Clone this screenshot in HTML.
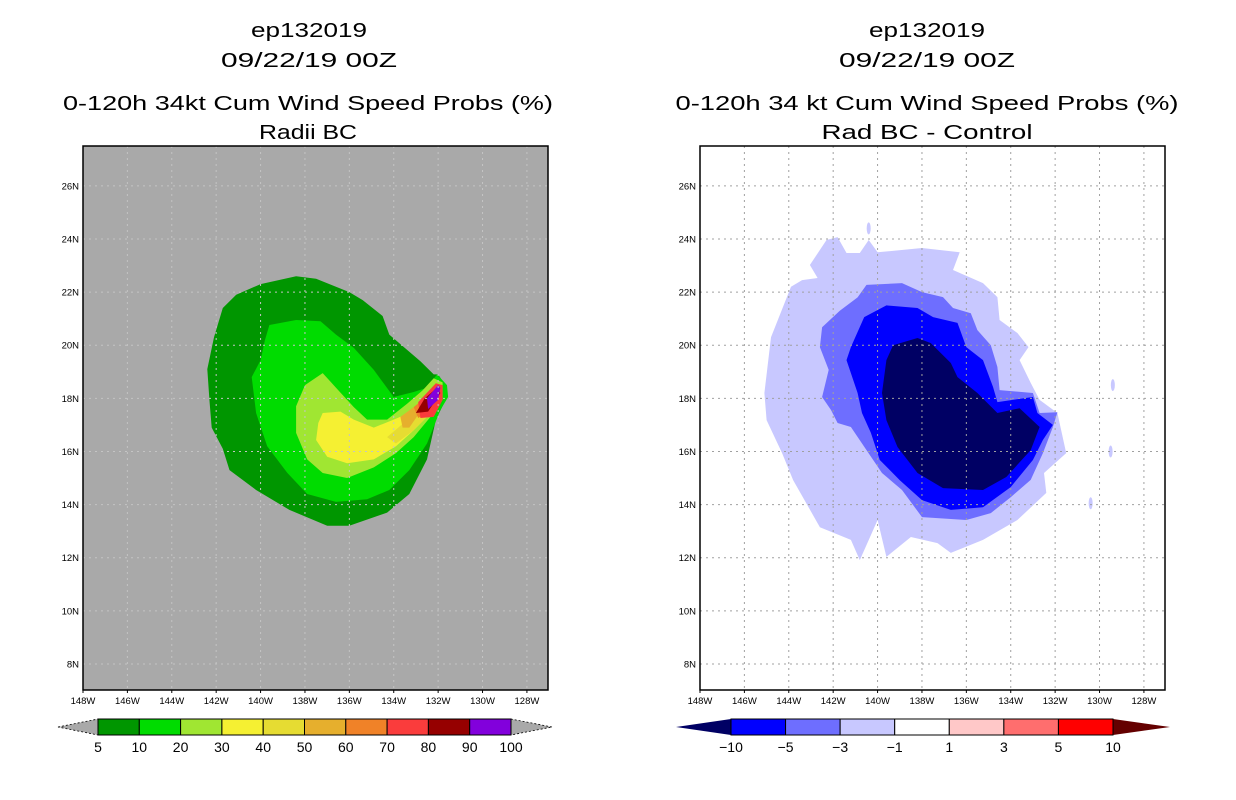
<!DOCTYPE html>
<html><head><meta charset="utf-8"><style>
html,body{margin:0;padding:0;background:#fff;}
svg{display:block;font-family:"Liberation Sans",sans-serif;}
</style></head><body>
<svg id="s" width="1236" height="800" viewBox="0 0 1236 800" xmlns="http://www.w3.org/2000/svg">
<g font-size="20" text-anchor="middle" fill="#000">
<text x="309" y="37" textLength="116" lengthAdjust="spacingAndGlyphs">ep132019</text>
<text x="309" y="67" textLength="176" lengthAdjust="spacingAndGlyphs">09/22/19 00Z</text>
<text x="308" y="110" textLength="490" lengthAdjust="spacingAndGlyphs">0-120h 34kt Cum Wind Speed Probs (%)</text>
<text x="308" y="139" textLength="98" lengthAdjust="spacingAndGlyphs">Radii BC</text>
</g>
<g font-size="20" text-anchor="middle" fill="#000">
<text x="927" y="37" textLength="116" lengthAdjust="spacingAndGlyphs">ep132019</text>
<text x="927" y="67" textLength="176" lengthAdjust="spacingAndGlyphs">09/22/19 00Z</text>
<text x="927" y="110" textLength="503" lengthAdjust="spacingAndGlyphs">0-120h 34 kt Cum Wind Speed Probs (%)</text>
<text x="927" y="139" textLength="211" lengthAdjust="spacingAndGlyphs">Rad BC - Control</text>
</g>
<g id="left"></g>
<g id="right"></g>
<g id="cbl"></g>
<g id="cbr"></g>
</svg>
<script>
// axis ranges
const lonTicks = [148,146,144,142,140,138,136,134,132,130,128];
const latTicks = [8,10,12,14,16,18,20,22,24,26];
// left panel contours (lon W, lat N)
const probLevels = ["5","10","20","30","40","50","60","70","80","90","100"];
const probColors = ["#009600","#00DC00","#A0E632","#F5F032","#E6DC32","#E6AF2D","#F08228","#FA3C3C","#960000","#8200DC"];
const c5 = [[140.0,22.3],[138.4,22.6],[137.5,22.5],[136.0,22.0],[135.4,21.7],[134.5,21.1],[134.2,20.4],[132.8,19.4],[132.2,18.9],[132.0,18.9],[131.6,18.4],[131.6,18.05],[132.1,17.2],[132.5,15.7],[133.3,14.4],[134.3,13.7],[136.0,13.2],[137.0,13.2],[138.7,13.8],[140.2,14.55],[141.4,15.3],[141.7,16.1],[142.2,16.9],[142.3,17.9],[142.4,19.1],[142.1,20.3],[141.7,21.4],[141.1,21.9]];
const c10 = [[139.6,20.76],[138.4,20.95],[137.3,20.9],[136.6,20.4],[135.8,19.9],[134.9,19.07],[134.0,18.05],[133.1,18.24],[132.5,18.4],[132.05,18.9],[131.6,18.5],[131.55,18.05],[131.9,17.56],[132.5,16.3],[133.3,15.3],[134.2,14.55],[135.2,14.2],[136.6,14.1],[137.9,14.4],[138.8,15.2],[139.7,16.2],[140.2,17.45],[140.4,18.8],[140.0,19.44],[139.8,20.2]];
const c20 = [[138.0,18.5],[137.2,18.95],[136.6,18.4],[135.8,17.67],[135.2,17.2],[134.3,17.2],[133.4,17.8],[132.7,18.3],[132.2,18.76],[131.8,18.6],[131.8,17.94],[132.2,17.45],[133.1,16.54],[133.9,15.94],[134.9,15.4],[136.1,15.0],[137.2,15.19],[137.9,15.7],[138.4,16.7],[138.4,17.7]];
const c30 = [[137.2,17.45],[136.4,17.5],[135.8,17.2],[134.9,16.9],[134.0,17.2],[133.3,17.45],[132.7,17.67],[132.5,17.3],[133.1,16.8],[133.9,16.2],[134.9,15.7],[136.1,15.56],[137.0,15.8],[137.5,16.43],[137.4,17.07]];
const c40 = [[134.3,16.54],[133.3,17.25],[132.5,17.74],[132.3,17.48],[133.1,16.8],[133.9,16.3]];
const c50 = [[133.7,17.3],[133.1,17.67],[132.8,17.5],[133.3,16.9],[133.6,16.9]];
const c60 = [[133.1,17.67],[132.5,18.1],[132.45,17.5],[132.9,17.26]];
const c70 = [[132.9,17.86],[132.1,18.57],[131.8,18.5],[131.8,17.94],[132.2,17.3],[132.8,17.26]];
const c80 = [[133.0,17.45],[132.6,18.0],[132.05,18.4],[131.9,18.2],[132.45,17.5]];
const c90 = [[132.5,18.0],[132.0,18.5],[131.9,18.4],[132.0,17.94],[132.45,17.6]];
// right panel difference contours
const diffLevels = ["-10","-5","-3","-1","1","3","5","10"];
const diffColors = ["#000064","#0000FF","#6E6EFF","#C8C8FF","#FFFFFF","#FFC8C8","#FF6E6E","#FF0000"];
const d1 = [[143.05,23.02],[142.3,23.96],[141.8,24.07],[141.4,23.47],[140.8,23.47],[140.4,23.96],[140.0,23.5],[138.0,23.66],[136.3,23.5],[136.6,22.83],[135.25,22.34],[134.6,21.81],[134.5,20.95],[133.7,20.46],[133.2,19.93],[133.6,19.44],[133.1,18.58],[132.7,17.94],[131.9,17.45],[131.5,15.94],[132.5,15.19],[132.4,14.44],[133.7,13.42],[135.25,12.67],[136.7,12.18],[137.3,12.55],[138.5,12.78],[139.6,12.03],[140.0,13.42],[140.8,11.91],[141.2,12.67],[142.6,13.15],[143.8,14.92],[144.3,15.94],[145.0,17.18],[145.1,18.2],[144.8,20.3],[143.9,22.2],[143.4,22.45],[142.7,22.53]];
const d3 = [[140.5,22.27],[138.9,22.34],[138.0,22.0],[137.05,21.81],[136.6,21.4],[135.8,21.2],[135.5,20.57],[134.9,20.0],[134.6,19.18],[134.5,18.31],[133.0,18.2],[132.7,17.45],[131.9,17.48],[132.1,16.92],[132.55,15.94],[133.1,14.93],[134.0,14.28],[134.9,13.68],[136.0,13.42],[138.0,13.53],[138.9,14.55],[139.8,15.19],[140.5,16.05],[141.2,16.92],[141.8,17.07],[142.1,17.56],[142.5,18.05],[142.2,19.07],[142.6,19.93],[142.5,20.68],[141.7,21.3],[140.9,21.8]];
const d5 = [[139.6,21.5],[138.2,21.4],[137.5,21.06],[136.4,20.84],[136.0,19.93],[135.25,19.44],[134.8,18.43],[134.6,17.86],[133.0,18.05],[132.8,17.45],[132.1,17.0],[132.55,16.43],[133.0,15.68],[134.0,14.66],[135.25,13.9],[136.7,13.8],[138.0,14.17],[139.0,14.92],[139.9,15.68],[140.3,16.7],[140.7,17.45],[140.9,18.2],[141.4,19.44],[141.2,19.93],[140.6,21.06]];
const d10 = [[139.3,20.0],[138.2,20.27],[137.6,20.08],[136.7,19.33],[136.4,18.8],[135.5,18.2],[134.6,17.45],[133.6,17.63],[132.7,16.92],[133.1,16.05],[134.2,15.04],[135.25,14.55],[137.05,14.62],[138.2,15.19],[139.1,16.17],[139.6,17.18],[139.8,18.2],[139.6,19.44]];
const dSpots = [[129.4,18.5],[130.4,14.05],[129.5,16.0],[140.4,24.4]];

const NS='http://www.w3.org/2000/svg';
function mk(tag,attrs,parent){const e=document.createElementNS(NS,tag);for(const k in attrs)e.setAttribute(k,attrs[k]);parent.appendChild(e);return e;}
const LON0=148, LON1=127.05, LAT0=7.02, LAT1=27.5, W=465, H=544, TOP=146;
function xs(x0,lon){return x0+(LON0-lon)/(LON0-LON1)*W;}
function ys(lat){return TOP+(LAT1-lat)/(LAT1-LAT0)*H;}

function panel(g,x0,bg,gridCol){
  const r=mk('rect',{x:x0,y:TOP,width:W,height:H,fill:bg},g);
  
  
  return function(){
    for(const lon of lonTicks){
      const x=xs(x0,lon);
      const l=mk('line',{x1:x,y1:TOP,x2:x,y2:TOP+H,stroke:gridCol,'stroke-width':1,'stroke-dasharray':'2,4'},g);
      
      
      const t=mk('text',{x:x,y:TOP+H+14,'font-size':9.5,'text-anchor':'middle'},g);
      t.textContent=lon+'W';
      
      
      const tk=mk('line',{x1:x,y1:TOP+H,x2:x,y2:TOP+H+3,stroke:'#000'},g);
      
      
    }
    for(const lat of latTicks){
      const y=ys(lat);
      const l=mk('line',{x1:x0,y1:y,x2:x0+W,y2:y,stroke:gridCol,'stroke-width':1,'stroke-dasharray':'2,4'},g);
      
      
      const t=mk('text',{x:x0-4,y:y+3.5,'font-size':9.5,'text-anchor':'end'},g);
      t.textContent=lat+'N';
      
      
    }
    const f=mk('rect',{x:x0,y:TOP,width:W,height:H,fill:'none',stroke:'#000','stroke-width':1.5},g);
    
    
  };
}
function poly(g,x0,pts,color,name){
  const p=mk('polygon',{points:pts.map(q=>xs(x0,q[0]).toFixed(1)+','+ys(q[1]).toFixed(1)).join(' '),fill:color},g);
  
  
}
// left
const gl=document.getElementById('left');
const finL=panel(gl,83,'#A9A9A9','#C4C4C4');
[c5,c10,c20,c30,c40,c50,c60,c70,c80,c90].forEach((c,i)=>poly(gl,83,c,probColors[i],'prob-contour-'+probLevels[i]));
finL();
// right
const gr=document.getElementById('right');
const finR=panel(gr,700,'#FFFFFF','#A0A0A0');
[d1,d3,d5,d10].forEach((c,i)=>poly(gr,700,c,diffColors[3-i],'diff-contour-'+diffLevels[3-i]));
for(const s of dSpots){
  const e=mk('ellipse',{cx:xs(700,s[0]),cy:ys(s[1]),rx:2,ry:6,fill:diffColors[3]},gr);
  
  
}
finR();

function colorbar(g,xL,xB0,xB1,xR,colors,labels,triL,triR,dashedTri){
  const y0=719,y1=735,n=colors.length,bw=(xB1-xB0)/n;
  const ta=mk('polygon',{points:`${xL},727 ${xB0},${y0} ${xB0},${y1}`,fill:triL,stroke:dashedTri?'#000':'none','stroke-dasharray':'2,2','stroke-width':0.8},g);
  
  
  const tb=mk('polygon',{points:`${xR},727 ${xB1},${y0} ${xB1},${y1}`,fill:triR,stroke:dashedTri?'#000':'none','stroke-dasharray':'2,2','stroke-width':0.8},g);
  
  
  colors.forEach((c,i)=>{
    const r=mk('rect',{x:xB0+i*bw,y:y0,width:bw,height:y1-y0,fill:c,stroke:'#000','stroke-width':1},g);
    
    
  });
  labels.forEach((t,i)=>{
    const e=mk('text',{x:xB0+i*bw,y:752,'font-size':14,'text-anchor':'middle'},g);
    e.textContent=t.replace('-','\u2212');
    
    
  });
}
colorbar(document.getElementById('cbl'),58,98,511,552,probColors,probLevels,'#A9A9A9','#A9A9A9',true);
colorbar(document.getElementById('cbr'),676,731,1113,1170,["#0000FF","#6E6EFF","#C8C8FF","#FFFFFF","#FFC8C8","#FF6E6E","#FF0000"],diffLevels,'#000064','#640000',false);
</script>
</body></html>
